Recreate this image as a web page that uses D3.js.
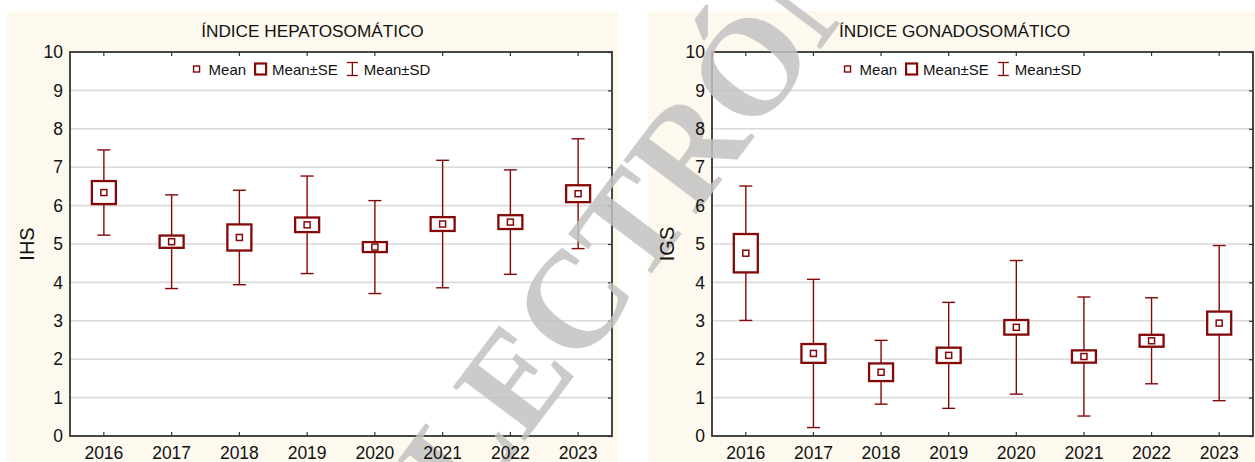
<!DOCTYPE html>
<html>
<head>
<meta charset="utf-8">
<script src="https://cdn.jsdelivr.net/npm/d3@7"></script>
<style>
  html, body { margin: 0; padding: 0; background: #ffffff; }
  svg { display: block; font-family: Arial, "Liberation Sans", sans-serif; }
</style>
</head>
<body>
<svg id="chart" width="1255" height="462"></svg>
<script>
// Years on the category axis
const years = ["2016", "2017", "2018", "2019", "2020", "2021", "2022", "2023"];
const yTicks = [0, 1, 2, 3, 4, 5, 6, 7, 8, 9, 10];

// Hepatosomatic index (IHS): mean, standard error, standard deviation
const ihsMean = [6.34, 5.06, 5.17, 5.50, 4.92, 5.52, 5.57, 6.31];
const ihsSE   = [0.30, 0.16, 0.34, 0.19, 0.13, 0.18, 0.18, 0.22];
const ihsSD   = [1.11, 1.22, 1.23, 1.27, 1.21, 1.66, 1.36, 1.43];

// Gonadosomatic index (IGS): mean, standard error, standard deviation
const igsMean = [4.76, 2.15, 1.66, 2.10, 2.83, 2.07, 2.48, 2.94];
const igsSE   = [0.50, 0.245, 0.23, 0.20, 0.19, 0.16, 0.155, 0.30];
const igsSD   = [1.75, 1.93, 0.83, 1.38, 1.74, 1.55, 1.12, 2.02];

const titles = ["ÍNDICE HEPATOSOMÁTICO", "ÍNDICE GONADOSOMÁTICO"];
const axisTitles = ["IHS", "IGS"];
const legendLabels = ["Mean", "Mean±SE", "Mean±SD"];

const RED = "#840808";
const CREAM = "#fdf9ee";
const GRID = "#dadada";
const FRAME = "#333333";
const FONT = "Arial, 'Liberation Sans', sans-serif";

const svg = d3.select("#chart");
// layers: chart body, watermark, then axis labels on top
const body = svg.append("g");
const wmLayer = svg.append("g");
const labelLayer = svg.append("g");

const panels = [
  { mean: ihsMean, se: ihsSE, sd: ihsSD, title: titles[0], ytitle: axisTitles[0],
    bg: [7, 11, 611, 460], plot: [70, 52, 612, 436], legendCx: 312, ytitleX: 34 },
  { mean: igsMean, se: igsSE, sd: igsSD, title: titles[1], ytitle: axisTitles[1],
    bg: [648, 11, 613, 460], plot: [712, 52, 1253, 436], legendCx: 963, ytitleX: 674 }
];

panels.forEach(p => {
  const [bx, by, bw, bh] = p.bg;
  const [x0, y0, x1, y1] = p.plot;
  const g = body.append("g");
  const lab = labelLayer.append("g");

  // panel background and white plotting area
  g.append("rect").attr("x", bx).attr("y", by).attr("width", bw).attr("height", bh).attr("fill", CREAM);
  g.append("rect").attr("x", x0).attr("y", y0).attr("width", x1 - x0).attr("height", y1 - y0).attr("fill", "#ffffff");

  const x = d3.scaleBand().domain(years).range([x0, x1]).padding(0);
  const y = d3.scaleLinear().domain([0, 10]).range([y1, y0]);
  const cx = d => x(d) + x.bandwidth() / 2;

  // horizontal gridlines
  g.append("g").selectAll("line").data(yTicks.filter(t => t > 0 && t < 10)).join("line")
    .attr("x1", x0).attr("x2", x1)
    .attr("y1", d => y(d)).attr("y2", d => y(d))
    .attr("stroke", GRID).attr("stroke-width", 1.6);

  // left axis labels
  const ya = lab.append("g").attr("transform", `translate(${x0},0)`)
    .call(d3.axisLeft(y).tickValues(yTicks).tickSize(0).tickPadding(7).tickFormat(d3.format("d")));
  ya.select(".domain").remove();
  ya.selectAll("text").attr("font-size", 17.5).attr("fill", "#111").attr("font-family", FONT);

  // right axis: inward ticks only
  const yr = g.append("g").attr("transform", `translate(${x1},0)`)
    .call(d3.axisLeft(y).tickValues(yTicks).tickSize(4).tickFormat(""));
  yr.select(".domain").remove();
  yr.selectAll("line").attr("stroke", FRAME).attr("stroke-width", 1.2);

  // bottom axis: year labels plus inward ticks
  const xb = lab.append("g").attr("transform", `translate(0,${y1})`)
    .call(d3.axisBottom(x).tickSize(0).tickPadding(11));
  xb.select(".domain").remove();
  xb.selectAll("text").attr("font-size", 17.5).attr("fill", "#111").attr("font-family", FONT);
  const xbt = g.append("g").attr("transform", `translate(0,${y1})`)
    .call(d3.axisTop(x).tickSize(4).tickFormat(""));
  xbt.select(".domain").remove();
  xbt.selectAll("line").attr("stroke", FRAME).attr("stroke-width", 1.2);

  // top axis: inward ticks
  const xt = g.append("g").attr("transform", `translate(0,${y0})`)
    .call(d3.axisBottom(x).tickSize(4).tickFormat(""));
  xt.select(".domain").remove();
  xt.selectAll("line").attr("stroke", FRAME).attr("stroke-width", 1.2);

  // frame
  g.append("rect").attr("x", x0).attr("y", y0).attr("width", x1 - x0).attr("height", y1 - y0)
    .attr("fill", "none").attr("stroke", FRAME).attr("stroke-width", 1.8);

  // panel title
  lab.append("text").attr("x", bx + bw / 2).attr("y", 37).attr("text-anchor", "middle")
    .attr("font-size", 17.2).attr("fill", "#111").text(p.title);

  // y axis title
  lab.append("text").attr("transform", `translate(${p.ytitleX},${(y0 + y1) / 2}) rotate(-90)`)
    .attr("text-anchor", "middle").attr("font-size", 20).attr("fill", "#111").text(p.ytitle);

  const rows = years.map((yr, i) => ({ yr, m: p.mean[i], se: p.se[i], sd: p.sd[i] }));
  const boxW = 24, capW = 13, dot = 6;

  const marks = g.append("g");
  // whiskers: mean ± SD
  marks.selectAll("line.sd").data(rows).join("line").attr("class", "sd")
    .attr("x1", d => cx(d.yr)).attr("x2", d => cx(d.yr))
    .attr("y1", d => y(d.m + d.sd)).attr("y2", d => y(d.m - d.sd))
    .attr("stroke", RED).attr("stroke-width", 1.4);
  marks.selectAll("line.capt").data(rows).join("line").attr("class", "capt")
    .attr("x1", d => cx(d.yr) - capW / 2).attr("x2", d => cx(d.yr) + capW / 2)
    .attr("y1", d => y(d.m + d.sd)).attr("y2", d => y(d.m + d.sd))
    .attr("stroke", RED).attr("stroke-width", 1.4);
  marks.selectAll("line.capb").data(rows).join("line").attr("class", "capb")
    .attr("x1", d => cx(d.yr) - capW / 2).attr("x2", d => cx(d.yr) + capW / 2)
    .attr("y1", d => y(d.m - d.sd)).attr("y2", d => y(d.m - d.sd))
    .attr("stroke", RED).attr("stroke-width", 1.4);
  // boxes: mean ± SE
  marks.selectAll("rect.se").data(rows).join("rect").attr("class", "se")
    .attr("x", d => cx(d.yr) - boxW / 2).attr("width", boxW)
    .attr("y", d => y(d.m + d.se)).attr("height", d => y(d.m - d.se) - y(d.m + d.se))
    .attr("fill", "#ffffff").attr("stroke", RED).attr("stroke-width", 2.3);
  // mean markers
  marks.selectAll("rect.mean").data(rows).join("rect").attr("class", "mean")
    .attr("x", d => cx(d.yr) - dot / 2).attr("y", d => y(d.m) - dot / 2)
    .attr("width", dot).attr("height", dot)
    .attr("fill", "#ffffff").attr("stroke", RED).attr("stroke-width", 1.5);

  // legend
  const lg = g.append("g");
  const ly = 69;
  let cur = 0;
  lg.append("rect").attr("x", cur).attr("y", ly - 3).attr("width", 6).attr("height", 6)
    .attr("fill", "#fff").attr("stroke", RED).attr("stroke-width", 1.4);
  cur += 6 + 9;
  const t1 = lg.append("text").attr("x", cur).attr("y", ly + 5.5).attr("font-size", 15).attr("fill", "#111").text(legendLabels[0]);
  cur += t1.node().getComputedTextLength() + 8;
  lg.append("rect").attr("x", cur + 1).attr("y", ly - 5.5).attr("width", 11).attr("height", 11)
    .attr("fill", "#fff").attr("stroke", RED).attr("stroke-width", 2.2);
  cur += 13 + 5;
  const t2 = lg.append("text").attr("x", cur).attr("y", ly + 5.5).attr("font-size", 15).attr("fill", "#111").text(legendLabels[1]);
  cur += t2.node().getComputedTextLength() + 9;
  const wx = cur + 5.5;
  lg.append("line").attr("x1", wx).attr("x2", wx).attr("y1", ly - 6.5).attr("y2", ly + 6.5).attr("stroke", RED).attr("stroke-width", 1.3);
  lg.append("line").attr("x1", wx - 5.5).attr("x2", wx + 5.5).attr("y1", ly - 6.5).attr("y2", ly - 6.5).attr("stroke", RED).attr("stroke-width", 1.3);
  lg.append("line").attr("x1", wx - 5.5).attr("x2", wx + 5.5).attr("y1", ly + 6.5).attr("y2", ly + 6.5).attr("stroke", RED).attr("stroke-width", 1.3);
  cur += 11 + 6;
  const t3 = lg.append("text").attr("x", cur).attr("y", ly + 5.5).attr("font-size", 15).attr("fill", "#111").text(legendLabels[2]);
  cur += t3.node().getComputedTextLength();
  lg.attr("transform", `translate(${p.legendCx - cur / 2},0)`);
});

// diagonal watermark across the figure
wmLayer.append("text")
  .attr("transform", "translate(722,180) rotate(-53)")
  .attr("text-anchor", "middle")
  .attr("font-family", "'Liberation Serif', 'Times New Roman', serif")
  .attr("font-weight", "bold")
  .attr("font-size", 138)
  .attr("fill", "#c2c2c2")
  .attr("fill-opacity", 0.85)
  .text("ELECTRÓNICA");
</script>
</body>
</html>
